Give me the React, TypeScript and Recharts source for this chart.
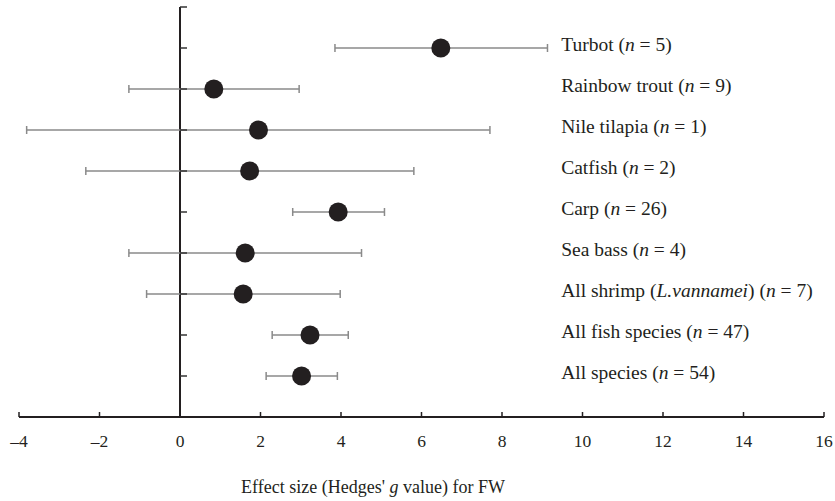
import React from "react";
import { ScatterChart, Scatter, XAxis, YAxis, ErrorBar, ReferenceLine } from "recharts";

const species = [
  "Turbot",
  "Rainbow trout",
  "Nile tilapia",
  "Catfish",
  "Carp",
  "Sea bass",
  "All shrimp (L.vannamei)",
  "All fish species",
  "All species",
];
const studies = [5, 9, 1, 2, 26, 4, 7, 47, 54];
const effect = [6.48, 0.84, 1.95, 1.73, 3.93, 1.62, 1.57, 3.23, 3.02];
const ciLow = [3.85, -1.27, -3.81, -2.34, 2.8, -1.27, -0.83, 2.29, 2.14];
const ciHigh = [9.13, 2.96, 7.7, 5.81, 5.08, 4.51, 3.98, 4.18, 3.91];
const xTicks = [-4, -2, 0, 2, 4, 6, 8, 10, 12, 14, 16];
const rowSlots = [1, 2, 3, 4, 5, 6, 7, 8, 9, 10];

const INK = "#231f20";
const FONT = "'Liberation Serif', 'Times New Roman', serif";
const LABEL_X = 9.47;

const rows = species.map((name, i) => ({
  name,
  n: studies[i],
  x: effect[i],
  y: species.length - i,
  err: [effect[i] - ciLow[i], ciHigh[i] - effect[i]],
}));
const labelRows = rows.map((r) => ({ ...r, x: LABEL_X }));
const tickRows = rowSlots.map((y) => ({ x: 0, y }));

const fmtTick = (v: number) => (v < 0 ? `\u2013${-v}` : `${v}`);

function RowLabel(props: any) {
  const { cx, cy, payload } = props;
  const m = /^(.*\()(.*)(\))$/.exec(payload.name);
  return (
    <text x={cx} y={cy} dy={-1} fontFamily={FONT} fontSize={19.5} fill={INK} dominantBaseline="middle">
      {m ? (
        <>
          {m[1]}
          <tspan fontStyle="italic">{m[2]}</tspan>
          {m[3]}
        </>
      ) : (
        payload.name
      )}
      {" ("}
      <tspan fontStyle="italic">n</tspan>
      {` = ${payload.n})`}
    </text>
  );
}

function AxisTitle(props: any) {
  const vb = props.viewBox;
  return (
    <text x={vb.x + 354} y={vb.y + 76} textAnchor="middle" fontFamily={FONT} fontSize={18} fill={INK}>
      {"Effect size (Hedges' "}
      <tspan fontStyle="italic">g</tspan>
      {" value) for FW"}
    </text>
  );
}

export default function App() {
  return (
    <div style={{ position: "absolute", left: 0, top: 0, width: 835, height: 501, background: "#fff" }}>
      <ScatterChart width={835} height={501} margin={{ top: 7, right: 11, left: 19, bottom: 44 }}>
        <XAxis
          type="number"
          dataKey="x"
          domain={[-4, 16]}
          ticks={xTicks}
          tickFormatter={fmtTick}
          height={40}
          axisLine={{ stroke: INK, strokeWidth: 2 }}
          tickLine={{ stroke: INK, strokeWidth: 1.5 }}
          tickSize={-5}
          tickMargin={23}
          tick={{ fill: INK, fontFamily: FONT, fontSize: 17.5 }}
          label={{ content: AxisTitle }}
        />
        <YAxis type="number" dataKey="y" domain={[0, 10]} hide />
        <ReferenceLine x={0} stroke={INK} strokeWidth={2} />
        <Scatter
          data={tickRows}
          isAnimationActive={false}
          shape={(p: any) => <line x1={p.cx} x2={p.cx + 7} y1={p.cy} y2={p.cy} stroke="#333" strokeWidth={1.5} />}
        />
        <Scatter
          data={rows}
          isAnimationActive={false}
          shape={(p: any) => <circle cx={p.cx} cy={p.cy} r={9.5} fill={INK} />}
        >
          <ErrorBar dataKey="err" direction="x" width={4} stroke="#8a8a8a" strokeWidth={1.5} />
        </Scatter>
        <Scatter data={labelRows} isAnimationActive={false} shape={RowLabel} />
      </ScatterChart>
    </div>
  );
}
